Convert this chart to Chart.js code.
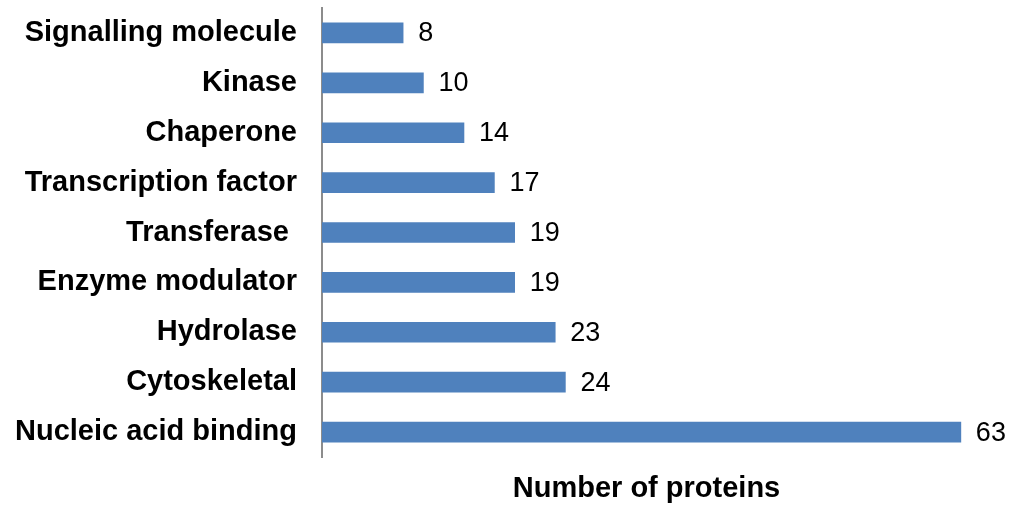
<!DOCTYPE html>
<html>
<head>
<meta charset="utf-8">
<script src="https://cdn.jsdelivr.net/npm/chart.js@4/dist/chart.umd.min.js"></script>
<style>
  html, body { margin: 0; padding: 0; background: #fff; }
  #wrap { width: 1014px; height: 507px; position: relative; }
</style>
</head>
<body>
<div id="wrap"><canvas id="grafica"></canvas></div>
<script>
// Categorías de proteínas, de arriba hacia abajo
const categorias = [
    'Signalling molecule',
    'Kinase',
    'Chaperone',
    'Transcription factor',
    'Transferase ',
    'Enzyme modulator',
    'Hydrolase',
    'Cytoskeletal',
    'Nucleic acid binding'
];

// Número de proteínas por categoría
const totales = [8, 10, 14, 17, 19, 19, 23, 24, 63];

const tituloEje = 'Number of proteins';
const FUENTE = "'Liberation Sans', Arial, sans-serif";

// Escribe el valor de cada barra a su derecha.
const etiquetasValor = {
    id: 'etiquetasValor',
    afterDatasetsDraw(chart) {
        const ctx = chart.ctx;
        const meta = chart.getDatasetMeta(0);
        ctx.save();
        ctx.font = `27px ${FUENTE}`;
        ctx.fillStyle = '#000';
        ctx.textAlign = 'left';
        ctx.textBaseline = 'middle';
        meta.data.forEach((bar, i) => {
            ctx.fillText(String(totales[i]), bar.x + 15, bar.y + 1);
        });
        ctx.restore();
    }
};

const ctx = document.getElementById('grafica').getContext('2d');
const chart = new Chart(ctx, {
    type: 'bar',
    data: {
        labels: categorias,
        datasets: [{
            data: totales,
            backgroundColor: '#4F81BD',
            borderWidth: 0,
            barThickness: 20
        }]
    },
    plugins: [etiquetasValor],
    options: {
        indexAxis: 'y',
        responsive: true,
        maintainAspectRatio: false,
        animation: false,
        layout: { padding: { left: 0, right: 43, top: 8, bottom: 0 } },
        plugins: {
            legend: { display: false },
            tooltip: { enabled: false }
        },
        scales: {
            x: {
                min: 0,
                max: 64,
                grid: { display: false },
                border: { display: false },
                ticks: { display: false },
                title: {
                    display: true,
                    text: tituloEje,
                    color: '#000',
                    font: { family: FUENTE, size: 29, weight: 'bold' },
                    padding: { top: 0, bottom: 1 }
                },
                afterFit: scale => { scale.height = 50; }
            },
            y: {
                grid: { display: false, drawTicks: false },
                border: { display: true, color: '#8c8c8c', width: 2 },
                ticks: {
                    color: '#000',
                    padding: 25,
                    font: { family: FUENTE, size: 29, weight: 'bold' }
                },
                // Ancho fijo del eje y sin margen extra arriba/abajo
                afterFit: scale => {
                    scale.width = 322;
                    scale.paddingTop = 0;
                    scale.paddingBottom = 0;
                }
            }
        }
    }
});
</script>
</body>
</html>
